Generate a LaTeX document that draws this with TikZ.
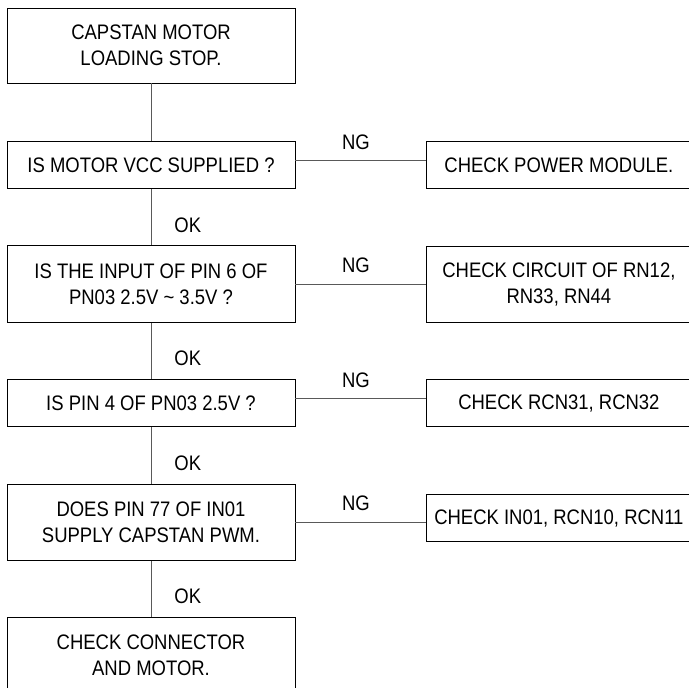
\documentclass[tikz,border=0pt]{standalone}
\usepackage{fontspec}
\setmainfont[FakeStretch=0.88]{Liberation Sans}
\usetikzlibrary{positioning}
\newcommand{\chartfont}{\fontsize{21}{26}\selectfont}

\begin{document}
\begin{tikzpicture}[
    node distance=56pt,
    block/.style={rectangle, draw, line width=0.9pt, text centered, align=center, minimum width=288pt, minimum height=47pt, inner sep=0pt, font=\chartfont},
    tall/.style={minimum height=76pt},
    check/.style={block, minimum width=264pt},
    link/.style={draw, line width=0.9pt, black!65},
    tag/.style={inner sep=0pt, text=black, font=\chartfont}
]
\useasboundingbox (0,0) rectangle (688pt,-688pt);

% main column
\node[block, minimum height=75pt] (start) at (151pt,-45.5pt) {CAPSTAN MOTOR\\LOADING STOP.};
\node[block, below=58pt of start] (vcc) {IS MOTOR VCC SUPPLIED ?};
\node[block, tall, minimum height=77pt, below=of vcc] (pin6) {IS THE INPUT OF PIN 6 OF\\PN03 2.5V \textasciitilde{} 3.5V ?};
\node[block, below=of pin6] (pin4) {IS PIN 4 OF PN03 2.5V ?};
\node[block, tall, below=57pt of pin4] (pwm) {DOES PIN 77 OF IN01\\SUPPLY CAPSTAN PWM.};
\node[block, minimum height=75pt, below=of pwm] (motor) {CHECK CONNECTOR\\AND MOTOR.};

% NG column
\node[check, right=131pt of vcc] (power) {CHECK POWER MODULE.};
\node[check, tall, right=131pt of pin6] (rn) {CHECK CIRCUIT OF RN12,\\RN33, RN44};
\node[check, right=131pt of pin4] (rcn) {CHECK RCN31, RCN32};
\node[check, right=131pt of pwm, yshift=4.5pt] (in01) {CHECK IN01, RCN10, RCN11};

\draw[link] (start) -- (vcc);
\draw[link] (vcc) -- node[tag, right=23pt, yshift=-7.5pt]{OK} (pin6);
\draw[link] (pin6) -- node[tag, right=23pt, yshift=-7.5pt]{OK} (pin4);
\draw[link] (pin4) -- node[tag, right=23pt, yshift=-7.5pt]{OK} (pwm);
\draw[link] (pwm) -- node[tag, right=23pt, yshift=-7.5pt]{OK} (motor);

\draw[link] ([yshift=4.5pt]vcc.east) -- node[tag, above=11pt, xshift=-5pt]{NG} ([yshift=4.5pt]power.west);
\draw[link] (pin6.east) -- node[tag, above=11pt, xshift=-5pt]{NG} (pin6.east -| rn.west);
\draw[link] ([yshift=4.5pt]pin4.east) -- node[tag, above=11pt, xshift=-5pt]{NG} ([yshift=4.5pt]rcn.west);
\draw[link] (pwm.east) -- node[tag, above=11pt, xshift=-5pt]{NG} (pwm.east -| in01.west);

\end{tikzpicture}
\end{document}
